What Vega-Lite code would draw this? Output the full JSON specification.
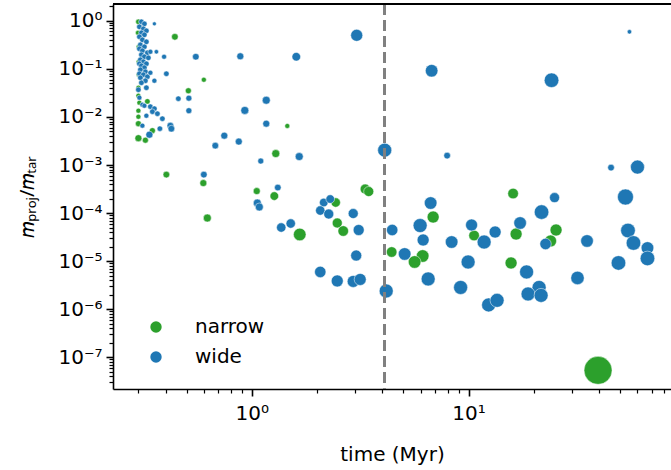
{
  "$schema": "https://vega.github.io/schema/vega-lite/v6.json",
  "width": 558,
  "height": 385,
  "autosize": {"type": "none"},
  "padding": {"left": 113, "top": 4, "right": 0, "bottom": 81},
  "background": "white",
  "config": {
    "view": {"stroke": null},
    "font": "DejaVu Sans",
    "axis": {
      "domainColor": "black", "domainWidth": 1.6, "tickColor": "black",
      "labelColor": "black", "titleColor": "black", "labelFont": "DejaVu Sans", "titleFont": "DejaVu Sans",
      "labelFontSize": 20, "titleFontSize": 20, "titleFontWeight": "normal", "grid": false,
      "labelOverlap": false, "labelFlush": false, "labelBound": false
    },
    "legend": {"labelFont": "DejaVu Sans", "labelFontSize": 20, "labelColor": "black"}
  },
  "data": {"values": [
    {"t": 0.2999, "q": 0.953, "type": "narrow", "s": 30},
    {"t": 0.2984, "q": 0.563, "type": "narrow", "s": 25},
    {"t": 0.2999, "q": 0.288, "type": "narrow", "s": 20},
    {"t": 0.2999, "q": 0.141, "type": "narrow", "s": 20},
    {"t": 0.2999, "q": 0.0756, "type": "narrow", "s": 20},
    {"t": 0.2999, "q": 0.0406, "type": "narrow", "s": 25},
    {"t": 0.2999, "q": 0.0277, "type": "narrow", "s": 25},
    {"t": 0.3031, "q": 0.0198, "type": "narrow", "s": 25},
    {"t": 0.2999, "q": 0.0135, "type": "narrow", "s": 25},
    {"t": 0.2999, "q": 0.0101, "type": "narrow", "s": 25},
    {"t": 0.2999, "q": 0.00725, "type": "narrow", "s": 36},
    {"t": 0.2999, "q": 0.00362, "type": "narrow", "s": 49},
    {"t": 0.3230, "q": 0.00329, "type": "narrow", "s": 36},
    {"t": 0.3299, "q": 0.0211, "type": "narrow", "s": 30},
    {"t": 0.3479, "q": 0.00519, "type": "narrow", "s": 36},
    {"t": 0.4418, "q": 0.465, "type": "narrow", "s": 44},
    {"t": 0.5098, "q": 0.0351, "type": "narrow", "s": 36},
    {"t": 0.6009, "q": 0.0595, "type": "narrow", "s": 25},
    {"t": 1.458, "q": 0.0065, "type": "narrow", "s": 25},
    {"t": 1.290, "q": 0.00173, "type": "narrow", "s": 64},
    {"t": 0.4036, "q": 0.000632, "type": "narrow", "s": 44},
    {"t": 0.5976, "q": 0.000421, "type": "narrow", "s": 49},
    {"t": 1.054, "q": 0.000287, "type": "narrow", "s": 49},
    {"t": 1.270, "q": 0.000226, "type": "narrow", "s": 74},
    {"t": 0.6235, "q": 0.000079, "type": "narrow", "s": 64},
    {"t": 2.438, "q": 0.000166, "type": "narrow", "s": 88},
    {"t": 2.478, "q": 0.0000622, "type": "narrow", "s": 100},
    {"t": 2.641, "q": 0.0000424, "type": "narrow", "s": 112},
    {"t": 1.664, "q": 0.0000359, "type": "narrow", "s": 159},
    {"t": 3.334, "q": 0.000316, "type": "narrow", "s": 100},
    {"t": 3.461, "q": 0.000281, "type": "narrow", "s": 100},
    {"t": 6.862, "q": 0.0000828, "type": "narrow", "s": 144},
    {"t": 4.417, "q": 0.0000155, "type": "narrow", "s": 112},
    {"t": 6.138, "q": 0.0000128, "type": "narrow", "s": 159},
    {"t": 5.637, "q": 0.00000962, "type": "narrow", "s": 159},
    {"t": 10.60, "q": 0.0000342, "type": "narrow", "s": 112},
    {"t": 16.04, "q": 0.000255, "type": "narrow", "s": 112},
    {"t": 16.56, "q": 0.0000367, "type": "narrow", "s": 144},
    {"t": 15.70, "q": 0.00000918, "type": "narrow", "s": 144},
    {"t": 25.31, "q": 0.0000445, "type": "narrow", "s": 144},
    {"t": 23.88, "q": 0.0000263, "type": "narrow", "s": 144},
    {"t": 39.54, "q": 5.36e-8, "type": "narrow", "s": 784},
    {"t": 0.3096, "q": 0.953, "type": "wide", "s": 30},
    {"t": 0.3196, "q": 0.866, "type": "wide", "s": 30},
    {"t": 0.3031, "q": 0.750, "type": "wide", "s": 30},
    {"t": 0.3162, "q": 0.682, "type": "wide", "s": 30},
    {"t": 0.3264, "q": 0.620, "type": "wide", "s": 30},
    {"t": 0.3096, "q": 0.563, "type": "wide", "s": 30},
    {"t": 0.3196, "q": 0.512, "type": "wide", "s": 30},
    {"t": 0.3031, "q": 0.465, "type": "wide", "s": 30},
    {"t": 0.3129, "q": 0.403, "type": "wide", "s": 30},
    {"t": 0.3264, "q": 0.366, "type": "wide", "s": 30},
    {"t": 0.3063, "q": 0.317, "type": "wide", "s": 30},
    {"t": 0.3196, "q": 0.288, "type": "wide", "s": 30},
    {"t": 0.3031, "q": 0.262, "type": "wide", "s": 30},
    {"t": 0.3129, "q": 0.238, "type": "wide", "s": 30},
    {"t": 0.3299, "q": 0.216, "type": "wide", "s": 30},
    {"t": 0.3096, "q": 0.197, "type": "wide", "s": 30},
    {"t": 0.3196, "q": 0.179, "type": "wide", "s": 30},
    {"t": 0.3334, "q": 0.170, "type": "wide", "s": 30},
    {"t": 0.3063, "q": 0.155, "type": "wide", "s": 30},
    {"t": 0.3162, "q": 0.141, "type": "wide", "s": 30},
    {"t": 0.3031, "q": 0.128, "type": "wide", "s": 30},
    {"t": 0.3264, "q": 0.128, "type": "wide", "s": 30},
    {"t": 0.3096, "q": 0.116, "type": "wide", "s": 30},
    {"t": 0.3196, "q": 0.106, "type": "wide", "s": 30},
    {"t": 0.3063, "q": 0.0960, "type": "wide", "s": 30},
    {"t": 0.3230, "q": 0.0872, "type": "wide", "s": 30},
    {"t": 0.3031, "q": 0.0793, "type": "wide", "s": 30},
    {"t": 0.3162, "q": 0.0756, "type": "wide", "s": 30},
    {"t": 0.3299, "q": 0.0687, "type": "wide", "s": 30},
    {"t": 0.3063, "q": 0.0654, "type": "wide", "s": 30},
    {"t": 0.3230, "q": 0.0567, "type": "wide", "s": 30},
    {"t": 0.3096, "q": 0.0515, "type": "wide", "s": 30},
    {"t": 0.3264, "q": 0.0406, "type": "wide", "s": 30},
    {"t": 0.2999, "q": 0.0369, "type": "wide", "s": 30},
    {"t": 0.3554, "q": 0.866, "type": "wide", "s": 16},
    {"t": 0.3406, "q": 0.227, "type": "wide", "s": 25},
    {"t": 0.3631, "q": 0.227, "type": "wide", "s": 20},
    {"t": 0.3939, "q": 0.179, "type": "wide", "s": 25},
    {"t": 0.3406, "q": 0.0832, "type": "wide", "s": 25},
    {"t": 0.4036, "q": 0.0793, "type": "wide", "s": 30},
    {"t": 0.3554, "q": 0.0567, "type": "wide", "s": 25},
    {"t": 0.3031, "q": 0.0252, "type": "wide", "s": 25},
    {"t": 0.3129, "q": 0.0180, "type": "wide", "s": 25},
    {"t": 0.3196, "q": 0.0171, "type": "wide", "s": 25},
    {"t": 0.3406, "q": 0.0164, "type": "wide", "s": 30},
    {"t": 0.3554, "q": 0.0149, "type": "wide", "s": 30},
    {"t": 0.3479, "q": 0.0129, "type": "wide", "s": 30},
    {"t": 0.3670, "q": 0.0117, "type": "wide", "s": 30},
    {"t": 0.3264, "q": 0.0106, "type": "wide", "s": 25},
    {"t": 0.3869, "q": 0.00921, "type": "wide", "s": 30},
    {"t": 0.3129, "q": 0.00659, "type": "wide", "s": 25},
    {"t": 0.3767, "q": 0.00571, "type": "wide", "s": 30},
    {"t": 0.4211, "q": 0.00659, "type": "wide", "s": 45},
    {"t": 0.4256, "q": 0.00571, "type": "wide", "s": 45},
    {"t": 0.3370, "q": 0.00428, "type": "wide", "s": 50},
    {"t": 0.4584, "q": 0.0240, "type": "wide", "s": 30},
    {"t": 0.5125, "q": 0.0246, "type": "wide", "s": 36},
    {"t": 0.5125, "q": 0.0135, "type": "wide", "s": 36},
    {"t": 0.5518, "q": 0.179, "type": "wide", "s": 44},
    {"t": 0.885, "q": 0.183, "type": "wide", "s": 49},
    {"t": 1.604, "q": 0.179, "type": "wide", "s": 74},
    {"t": 1.166, "q": 0.0223, "type": "wide", "s": 64},
    {"t": 0.9284, "q": 0.0137, "type": "wide", "s": 64},
    {"t": 1.166, "q": 0.00725, "type": "wide", "s": 49},
    {"t": 0.7467, "q": 0.00408, "type": "wide", "s": 49},
    {"t": 0.6787, "q": 0.00253, "type": "wide", "s": 44},
    {"t": 0.871, "q": 0.00307, "type": "wide", "s": 49},
    {"t": 1.655, "q": 0.00150, "type": "wide", "s": 64},
    {"t": 1.100, "q": 0.00121, "type": "wide", "s": 36},
    {"t": 0.6009, "q": 0.000632, "type": "wide", "s": 44},
    {"t": 1.318, "q": 0.000340, "type": "wide", "s": 44},
    {"t": 1.060, "q": 0.000162, "type": "wide", "s": 64},
    {"t": 1.083, "q": 0.000134, "type": "wide", "s": 64},
    {"t": 1.367, "q": 0.0000501, "type": "wide", "s": 88},
    {"t": 1.512, "q": 0.0000607, "type": "wide", "s": 88},
    {"t": 2.147, "q": 0.000166, "type": "wide", "s": 74},
    {"t": 2.300, "q": 0.000196, "type": "wide", "s": 74},
    {"t": 2.069, "q": 0.000113, "type": "wide", "s": 88},
    {"t": 2.264, "q": 0.0000956, "type": "wide", "s": 100},
    {"t": 2.936, "q": 0.0000979, "type": "wide", "s": 100},
    {"t": 3.112, "q": 0.0000445, "type": "wide", "s": 121},
    {"t": 3.031, "q": 0.0000131, "type": "wide", "s": 121},
    {"t": 2.069, "q": 0.00000597, "type": "wide", "s": 130},
    {"t": 2.478, "q": 0.00000388, "type": "wide", "s": 144},
    {"t": 2.936, "q": 0.00000379, "type": "wide", "s": 144},
    {"t": 3.162, "q": 0.00000417, "type": "wide", "s": 144},
    {"t": 3.047, "q": 0.500, "type": "wide", "s": 144},
    {"t": 4.102, "q": 0.00204, "type": "wide", "s": 196},
    {"t": 4.168, "q": 0.00000240, "type": "wide", "s": 196},
    {"t": 7.961, "q": 0.00157, "type": "wide", "s": 44},
    {"t": 6.753, "q": 0.0915, "type": "wide", "s": 159},
    {"t": 24.13, "q": 0.0581, "type": "wide", "s": 213},
    {"t": 55.20, "q": 0.591, "type": "wide", "s": 20},
    {"t": 45.39, "q": 0.000884, "type": "wide", "s": 44},
    {"t": 60.10, "q": 0.000905, "type": "wide", "s": 196},
    {"t": 6.682, "q": 0.000162, "type": "wide", "s": 159},
    {"t": 5.976, "q": 0.0000551, "type": "wide", "s": 196},
    {"t": 4.441, "q": 0.0000445, "type": "wide", "s": 130},
    {"t": 6.170, "q": 0.0000276, "type": "wide", "s": 144},
    {"t": 5.071, "q": 0.0000141, "type": "wide", "s": 159},
    {"t": 6.508, "q": 0.00000427, "type": "wide", "s": 196},
    {"t": 8.351, "q": 0.0000250, "type": "wide", "s": 159},
    {"t": 10.32, "q": 0.0000565, "type": "wide", "s": 144},
    {"t": 11.79, "q": 0.0000250, "type": "wide", "s": 196},
    {"t": 13.25, "q": 0.0000404, "type": "wide", "s": 144},
    {"t": 9.947, "q": 0.00000962, "type": "wide", "s": 196},
    {"t": 9.187, "q": 0.00000284, "type": "wide", "s": 196},
    {"t": 17.28, "q": 0.0000622, "type": "wide", "s": 159},
    {"t": 21.70, "q": 0.000105, "type": "wide", "s": 213},
    {"t": 24.91, "q": 0.000210, "type": "wide", "s": 100},
    {"t": 22.64, "q": 0.0000228, "type": "wide", "s": 130},
    {"t": 18.51, "q": 0.00000597, "type": "wide", "s": 196},
    {"t": 12.37, "q": 0.00000123, "type": "wide", "s": 196},
    {"t": 13.53, "q": 0.00000153, "type": "wide", "s": 196},
    {"t": 21.14, "q": 0.00000284, "type": "wide", "s": 196},
    {"t": 18.80, "q": 0.00000208, "type": "wide", "s": 196},
    {"t": 21.59, "q": 0.00000194, "type": "wide", "s": 196},
    {"t": 35.17, "q": 0.0000263, "type": "wide", "s": 159},
    {"t": 31.79, "q": 0.00000448, "type": "wide", "s": 180},
    {"t": 52.90, "q": 0.000216, "type": "wide", "s": 256},
    {"t": 54.33, "q": 0.0000434, "type": "wide", "s": 213},
    {"t": 57.60, "q": 0.0000239, "type": "wide", "s": 213},
    {"t": 66.83, "q": 0.0000188, "type": "wide", "s": 159},
    {"t": 66.83, "q": 0.0000114, "type": "wide", "s": 213},
    {"t": 49.12, "q": 0.00000918, "type": "wide", "s": 213}
  ]},
  "layer": [
    {
      "mark": {"type": "circle", "opacity": 1, "stroke": "white", "strokeWidth": 0.5},
      "encoding": {
        "x": {
          "field": "t", "type": "quantitative",
          "scale": {"type": "log", "domain": [0.229, 85.8], "nice": false},
          "axis": {
            "title": "time (Myr)", "titlePadding": 21,
            "values": [0.3,0.4,0.5,0.6,0.7,0.8,0.9,1,2,3,4,5,6,7,8,9,10,20,30,40,50,60,70,80],
            "labelExpr": "datum.value == 1 ? '10⁰' : datum.value == 10 ? '10¹' : ''",
            "tickSize": {"condition": {"test": "datum.value == 1 || datum.value == 10", "value": 7}, "value": 4},
            "tickWidth": {"condition": {"test": "datum.value == 1 || datum.value == 10", "value": 1.6}, "value": 1.2},
            "labelPadding": 7
          }
        },
        "y": {
          "field": "q", "type": "quantitative",
          "scale": {"type": "log", "domain": [2.19e-8, 2.24], "nice": false},
          "axis": {
            "title": "𝑚ₚᵣₒⱼ/𝑚ₜₐᵣ", "titlePadding": 20, "titleFont": "Noto Sans",
            "values": [3e-8,4e-8,5e-8,6e-8,7e-8,8e-8,9e-8,1e-7,2e-7,3e-7,4e-7,5e-7,6e-7,7e-7,8e-7,9e-7,1e-6,2e-6,3e-6,4e-6,5e-6,6e-6,7e-6,8e-6,9e-6,1e-5,2e-5,3e-5,4e-5,5e-5,6e-5,7e-5,8e-5,9e-5,1e-4,2e-4,3e-4,4e-4,5e-4,6e-4,7e-4,8e-4,9e-4,1e-3,2e-3,3e-3,4e-3,5e-3,6e-3,7e-3,8e-3,9e-3,1e-2,2e-2,3e-2,4e-2,5e-2,6e-2,7e-2,8e-2,9e-2,0.1,0.2,0.3,0.4,0.5,0.6,0.7,0.8,0.9,1,2],
            "labelExpr": "abs(datum.value / pow(10, round(log(datum.value)/LN10)) - 1) < 1e-6 ? ['10⁻⁷','10⁻⁶','10⁻⁵','10⁻⁴','10⁻³','10⁻²','10⁻¹','10⁰'][round(log(datum.value)/LN10) + 7] : ''",
            "tickSize": {"condition": {"test": "abs(datum.value / pow(10, round(log(datum.value)/LN10)) - 1) < 1e-6", "value": 7}, "value": 4},
            "tickWidth": {"condition": {"test": "abs(datum.value / pow(10, round(log(datum.value)/LN10)) - 1) < 1e-6", "value": 1.6}, "value": 1.2},
            "labelPadding": 4
          }
        },
        "color": {
          "field": "type", "type": "nominal",
          "scale": {"domain": ["narrow", "wide"], "range": ["#2ca02c", "#1f77b4"]},
          "legend": {"title": null, "orient": "none", "legendX": 33, "legendY": 313, "symbolType": "circle", "symbolSize": 130, "symbolStrokeWidth": 0, "labelOffset": 29, "rowPadding": 10, "padding": 0, "symbolOpacity": 1}
        },
        "size": {"field": "s", "type": "quantitative", "scale": null, "legend": null}
      }
    },
    {
      "mark": {"type": "rule", "color": "#808080", "strokeWidth": 2.6, "strokeDash": [11, 5]},
      "encoding": {"x": {"datum": 4.1, "type": "quantitative"}}
    },
    {
      "mark": {"type": "rule", "color": "black", "strokeWidth": 1.6},
      "encoding": {"y": {"datum": 2.24, "type": "quantitative"}}
    }
  ]
}
